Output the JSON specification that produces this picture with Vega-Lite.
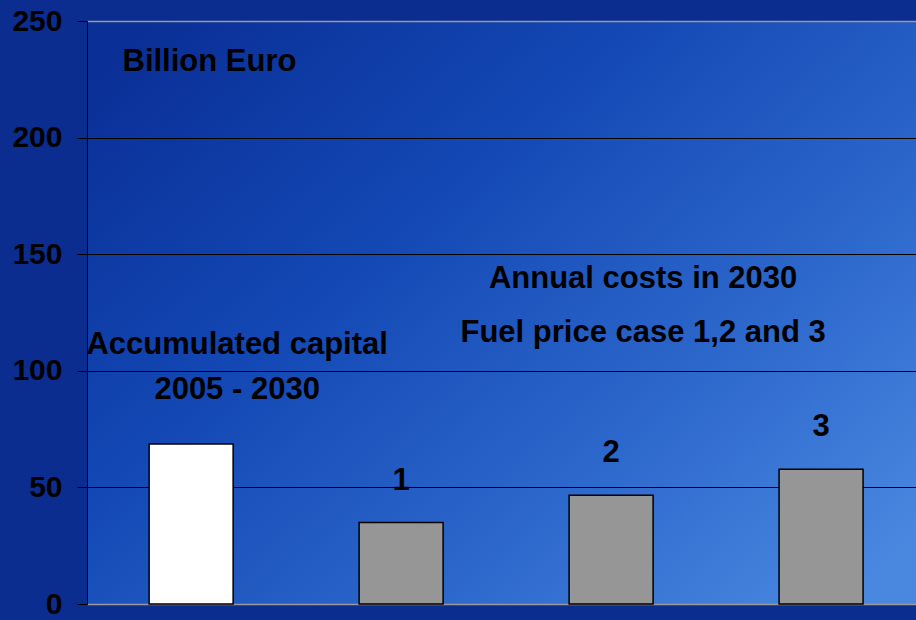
{
  "$schema": "https://vega.github.io/schema/vega-lite/v6.json",
  "width": 829,
  "height": 583,
  "autosize": {"type": "none"},
  "padding": {"left": 87, "top": 21, "right": 0, "bottom": 16},
  "background": "#0b2d90",
  "config": {
    "view": {
      "stroke": null,
      "fill": {
        "gradient": "linear",
        "x1": 0, "y1": 0.1, "x2": 1, "y2": 0.9,
        "stops": [
          {"offset": 0, "color": "#0a2f96"},
          {"offset": 0.35, "color": "#1348b4"},
          {"offset": 0.7, "color": "#2d68cc"},
          {"offset": 1, "color": "#4a88e0"}
        ]
      }
    },
    "font": "Liberation Sans",
    "text": {"font": "Liberation Sans", "fontWeight": "bold", "fontSize": 31, "color": "black"}
  },
  "datasets": {
    "bars": [
      {"cat": "capital", "value": 68.6, "kind": "Accumulated capital", "label": ""},
      {"cat": "1", "value": 34.9, "kind": "Annual costs", "label": "1"},
      {"cat": "2", "value": 46.6, "kind": "Annual costs", "label": "2"},
      {"cat": "3", "value": 57.8, "kind": "Annual costs", "label": "3"}
    ],
    "capitalNote": [
      {"cat": "capital", "y": 107.2, "text": "Accumulated capital"},
      {"cat": "capital", "y": 87.9, "text": "2005 - 2030"}
    ],
    "annualNote": [
      {"cat": "2", "y": 135.6, "text": "Annual costs in 2030"},
      {"cat": "2", "y": 112.3, "text": "Fuel price case 1,2 and 3"}
    ]
  },
  "encoding": {
    "x": {
      "field": "cat",
      "type": "nominal",
      "sort": ["capital", "1", "2", "3"],
      "scale": {"domain": ["capital", "1", "2", "3"], "paddingInner": 0.6, "paddingOuter": 0.274, "align": 0.54},
      "axis": null
    }
  },
  "layer": [
    {
      "data": {"name": "bars"},
      "mark": {"type": "bar", "stroke": "black", "strokeWidth": 1.5},
      "encoding": {
        "y": {
          "field": "value",
          "type": "quantitative",
          "scale": {"domain": [0, 250], "nice": false},
          "axis": {
            "values": [0, 50, 100, 150, 200, 250],
            "title": "Billion Euro",
            "titleAngle": 0,
            "titleAlign": "left",
            "titleBaseline": "alphabetic",
            "titleX": 35,
            "titleY": 49,
            "titleFont": "Liberation Sans",
            "titleFontSize": 31,
            "titleFontWeight": "bold",
            "titleColor": "black",
            "labelFont": "Liberation Sans",
            "labelFontSize": 30,
            "labelFontWeight": "bold",
            "labelColor": "black",
            "labelPadding": 15,
            "tickSize": 10,
            "tickColor": "black",
            "domainColor": "black",
            "domainWidth": 1,
            "grid": true,
            "gridColor": {"expr": "datum.value == 0 || datum.value == 250 ? '#9a9a9a' : 'black'"},
            "gridWidth": {"expr": "datum.value == 0 || datum.value == 250 ? 1.5 : 1"},
            "gridOpacity": 1
          }
        },
        "fill": {
          "field": "kind",
          "type": "nominal",
          "scale": {"domain": ["Accumulated capital", "Annual costs"], "range": ["#ffffff", "#969696"]},
          "legend": null
        }
      }
    },
    {
      "data": {"name": "bars"},
      "mark": {"type": "text", "baseline": "alphabetic", "dy": -33},
      "encoding": {
        "y": {"field": "value", "type": "quantitative"},
        "text": {"field": "label"}
      }
    },
    {
      "data": {"name": "capitalNote"},
      "mark": {"type": "text", "baseline": "alphabetic", "dx": 46},
      "encoding": {
        "y": {"field": "y", "type": "quantitative"},
        "text": {"field": "text"}
      }
    },
    {
      "data": {"name": "annualNote"},
      "mark": {"type": "text", "baseline": "alphabetic", "dx": 32},
      "encoding": {
        "y": {"field": "y", "type": "quantitative"},
        "text": {"field": "text"}
      }
    }
  ]
}
